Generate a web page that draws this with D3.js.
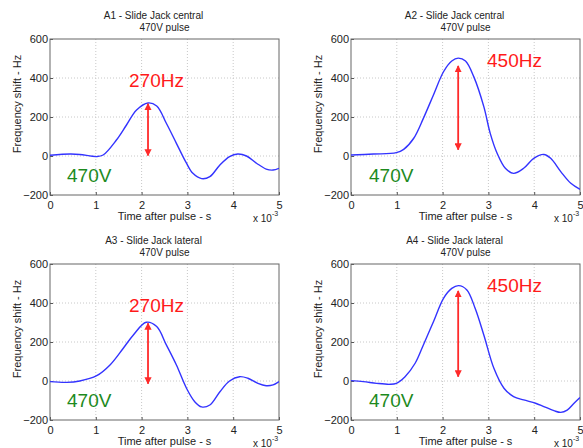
<!DOCTYPE html>
<html>
<head>
<meta charset="utf-8">
<script src="https://cdn.jsdelivr.net/npm/d3@7"></script>
<style>
    body { margin: 0; background: #fff; }
    svg { font-family: "Liberation Sans", Arial, sans-serif; }
    .grid line { stroke: #c8c8c8; stroke-dasharray: 1,2; }
    .axis text { fill: #222; font-size: 11px; }
</style>
</head>
<body>
<div id="graph"></div>
<script>
// panel titles and annotations
var titles = ["A1 - Slide Jack central", "A2 - Slide Jack central", "A3 - Slide Jack lateral", "A4 - Slide Jack lateral"];
var subtitle = "470V pulse";
var shiftLabels = ["270Hz", "450Hz", "270Hz", "450Hz"];
var voltLabel = "470V";

var xTicks = [0, 1, 2, 3, 4, 5];
var yTicks = [-200, 0, 200, 400, 600];

// time in ms (x 10^-3 s)
var tA1 = [0, 0.44, 0.65, 1.02, 1.16, 1.45, 1.67, 1.89, 2.14, 2.33, 2.54, 2.76, 2.98, 3.12, 3.31, 3.49, 3.71, 3.92, 4.1, 4.29, 4.51, 4.72, 4.87, 5];
var fA1 = [4, 10, 8, -3, 5, 82, 159, 236, 272, 256, 168, 65, -37, -89, -116, -106, -46, -3, 10, 0, -37, -67, -72, -63];

var tA2 = [0, 0.49, 0.99, 1.15, 1.37, 1.58, 1.8, 2.02, 2.2, 2.34, 2.5, 2.68, 2.9, 3.04, 3.19, 3.37, 3.55, 3.77, 3.99, 4.21, 4.36, 4.58, 4.8, 5];
var fA2 = [5, 10, 17, 34, 91, 193, 313, 432, 487, 502, 487, 407, 253, 116, 14, -63, -89, -63, -12, 8, -12, -80, -140, -171];

var tA3 = [0, 0.36, 0.65, 1.02, 1.31, 1.6, 1.82, 2.1, 2.33, 2.54, 2.76, 2.98, 3.16, 3.31, 3.49, 3.71, 3.92, 4.14, 4.32, 4.54, 4.72, 4.87, 5];
var fA3 = [-3, -7, 0, 27, 82, 168, 236, 301, 279, 185, 82, -37, -106, -133, -123, -55, 0, 22, 14, -12, -24, -20, -3];

var tA4 = [0, 0.27, 0.56, 0.85, 0.99, 1.18, 1.4, 1.58, 1.8, 2.02, 2.2, 2.35, 2.53, 2.71, 2.9, 3.12, 3.34, 3.55, 3.77, 4.03, 4.21, 4.43, 4.58, 4.72, 4.87, 5];
var fA4 = [2, -3, -12, -17, -12, 22, 91, 185, 304, 424, 475, 489, 467, 373, 236, 65, -37, -80, -97, -114, -131, -152, -161, -149, -114, -85];

// arrows: [time, from, to]
var arrows = [[2.14, 2, 268], [2.34, 32, 462], [2.14, -14, 296], [2.34, 22, 462]];

var times = [tA1, tA2, tA3, tA4];
var freqs = [fA1, fA2, fA3, fA4];

var width = 583, height = 448;
var pw = 229, ph = 156;
var origins = [[50, 39], [351, 39], [50, 264], [351, 264]];

var svg = d3.select("#graph")
    .append("svg")
    .attr("width", width)
    .attr("height", height);

var defs = svg.append("defs");
defs.append("marker")
    .attr("id", "head")
    .attr("viewBox", "0 0 10 10")
    .attr("refX", 9)
    .attr("refY", 5)
    .attr("markerWidth", 4)
    .attr("markerHeight", 4)
    .attr("orient", "auto-start-reverse")
    .append("path")
    .attr("d", "M0,0L10,5L0,10z")
    .attr("fill", "#ff2a2a");

var xScale = d3.scaleLinear().domain([0, 5]).range([0, pw]);
var yScale = d3.scaleLinear().domain([-200, 600]).range([ph, 0]);

origins.forEach(function (o, i) {
    var g = svg.append("g").attr("transform", "translate(" + o[0] + "," + o[1] + ")");

    defs.append("clipPath").attr("id", "clip" + i)
        .append("rect").attr("width", pw).attr("height", ph);

    // dotted grid
    g.append("g").attr("class", "grid")
        .selectAll("line.v").data(xTicks.slice(1, -1)).enter().append("line")
        .attr("x1", xScale).attr("x2", xScale).attr("y1", 0).attr("y2", ph);
    g.append("g").attr("class", "grid")
        .selectAll("line.h").data(yTicks.slice(1, -1)).enter().append("line")
        .attr("y1", yScale).attr("y2", yScale).attr("x1", 0).attr("x2", pw);

    var xAxis = d3.axisBottom(xScale).tickValues(xTicks).tickSize(-3).tickPadding(6).tickFormat(d3.format("d"));
    var yAxis = d3.axisLeft(yScale).tickValues(yTicks).tickSize(-3).tickPadding(2).tickFormat(d3.format("d"));

    var xa = g.append("g").attr("class", "axis")
        .attr("transform", "translate(0," + ph + ")")
        .call(xAxis);
    var ya = g.append("g").attr("class", "axis").call(yAxis);
    [xa, ya].forEach(function (a) {
        a.select(".domain").remove();
        a.selectAll(".tick line").attr("stroke", "#555");
        a.selectAll("text").attr("fill", "#222").style("font-size", "11px");
    });

    // box
    g.append("rect")
        .attr("width", pw).attr("height", ph)
        .attr("fill", "none").attr("stroke", "#666").attr("stroke-width", 1);

    var line = d3.line()
        .x(function (d) { return xScale(d[0]); })
        .y(function (d) { return yScale(d[1]); })
        .curve(d3.curveCatmullRom);

    g.append("path")
        .datum(d3.zip(times[i], freqs[i]))
        .attr("clip-path", "url(#clip" + i + ")")
        .attr("d", line)
        .attr("fill", "none")
        .attr("stroke", "#3333ff")
        .attr("stroke-width", 1.4);

    var a = arrows[i];
    g.append("line")
        .attr("x1", xScale(a[0])).attr("x2", xScale(a[0]))
        .attr("y1", yScale(a[1])).attr("y2", yScale(a[2]))
        .attr("stroke", "#ff2a2a").attr("stroke-width", 1.8)
        .attr("marker-start", "url(#head)")
        .attr("marker-end", "url(#head)");

    // titles
    g.append("text")
        .attr("x", pw / 2 - 11).attr("y", -20)
        .attr("text-anchor", "middle")
        .style("font-size", "10px").attr("fill", "#222")
        .text(titles[i]);
    g.append("text")
        .attr("x", pw / 2).attr("y", -8)
        .attr("text-anchor", "middle")
        .style("font-size", "10px").attr("fill", "#222")
        .text(subtitle);

    g.append("text")
        .attr("x", pw / 2).attr("y", ph + 25)
        .attr("text-anchor", "middle")
        .style("font-size", "11px").attr("fill", "#222")
        .text("Time after pulse - s");

    g.append("text")
        .attr("transform", "translate(-29," + (ph / 2 - 13) + ") rotate(-90)")
        .attr("text-anchor", "middle")
        .style("font-size", "11px").attr("fill", "#222")
        .text("Frequency shift - Hz");

    var sc = g.append("text")
        .attr("x", pw - 26).attr("y", ph + 27)
        .style("font-size", "10px").attr("fill", "#222");
    sc.append("tspan").text("x 10");
    sc.append("tspan").attr("dy", -6).style("font-size", "7px").text("-3");

    // annotations
    var lx = i % 2 === 0 ? 79 : 136;
    var ly = i % 2 === 0 ? 48 : 28;
    g.append("text")
        .attr("x", lx).attr("y", ly)
        .style("font-size", "19px").attr("fill", "#ff1a1a")
        .text(shiftLabels[i]);
    g.append("text")
        .attr("x", i % 2 === 0 ? 17 : 18).attr("y", 143)
        .style("font-size", "19px").attr("fill", "#1d8a1d")
        .text(voltLabel);
});
</script>
</body>
</html>
